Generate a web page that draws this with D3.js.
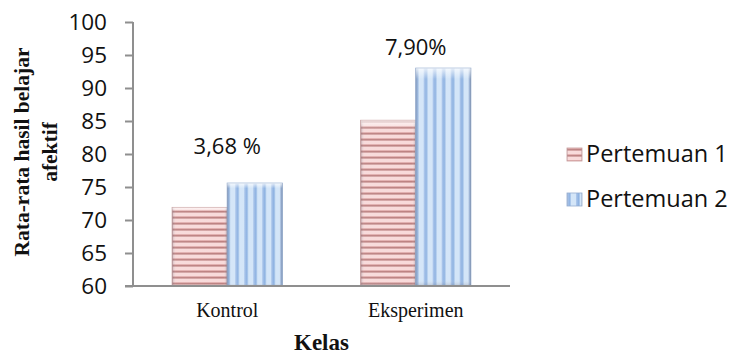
<!DOCTYPE html>
<html>
<head>
<meta charset="utf-8">
<script src="https://cdn.jsdelivr.net/npm/d3@7"></script>
<style>
  html, body { margin: 0; padding: 0; background: #fff; }
  svg { display: block; }
</style>
</head>
<body>
<svg id="chart" width="729" height="354"></svg>
<script>
// Mean affective learning scores per class, two meetings
const categories = ["Kontrol", "Eksperimen"];
const seriesNames = ["Pertemuan 1", "Pertemuan 2"];
const pertemuan1 = [71.9, 85.1];
const pertemuan2 = [75.58, 93.0];
const gainLabels = ["3,68 %", "7,90%"];
const yTicks = [60, 65, 70, 75, 80, 85, 90, 95, 100];

const svg = d3.select("#chart");
const sansFont = "'Open Sans', 'Liberation Sans', sans-serif";
const serifFont = "'Liberation Serif', 'DejaVu Serif', serif";

const plot = { left: 133, right: 510, top: 22, bottom: 286 };

const y = d3.scaleLinear().domain([60, 100]).range([plot.bottom, plot.top]);
const x0 = d3.scaleBand().domain(categories)
  .range([plot.left, plot.right]).paddingInner(0.416).paddingOuter(0.208);
const x1 = d3.scaleBand().domain(seriesNames).range([0, x0.bandwidth()]).padding(0);

// ---- fill patterns ----
const defs = svg.append("defs");

// rose fill with horizontal stripes
const pinkPat = defs.append("pattern").attr("id", "pinkStripes")
  .attr("patternUnits", "userSpaceOnUse").attr("width", 8).attr("height", 6);
pinkPat.append("rect").attr("width", 8).attr("height", 6).attr("fill", "#f8dada");
pinkPat.append("rect").attr("y", 0).attr("width", 8).attr("height", 1).attr("fill", "#e2b0b0");
pinkPat.append("rect").attr("y", 1).attr("width", 8).attr("height", 1.6).attr("fill", "#bd8282");

// sky-blue fill with vertical stripes
const bluePat = defs.append("pattern").attr("id", "blueStripes")
  .attr("patternUnits", "userSpaceOnUse").attr("width", 9).attr("height", 8);
bluePat.append("rect").attr("width", 9).attr("height", 8).attr("fill", "#d3e5f8");
bluePat.append("rect").attr("x", 0).attr("width", 1.2).attr("height", 8).attr("fill", "#a8c4ea");
bluePat.append("rect").attr("x", 1.2).attr("width", 2.4).attr("height", 8).attr("fill", "#8eb2e2");

// soft bevel shading on the bar edges
const bevelH = defs.append("linearGradient").attr("id", "bevelH")
  .attr("x1", "0").attr("x2", "1").attr("y1", "0").attr("y2", "0");
bevelH.append("stop").attr("offset", "0").attr("stop-color", "#556").attr("stop-opacity", 0.28);
bevelH.append("stop").attr("offset", "0.07").attr("stop-color", "#fff").attr("stop-opacity", 0.05);
bevelH.append("stop").attr("offset", "0.93").attr("stop-color", "#fff").attr("stop-opacity", 0.0);
bevelH.append("stop").attr("offset", "1").attr("stop-color", "#445").attr("stop-opacity", 0.32);

const bevelV = defs.append("linearGradient").attr("id", "bevelV")
  .attr("x1", "0").attr("x2", "0").attr("y1", "0").attr("y2", "1");
bevelV.append("stop").attr("offset", "0").attr("stop-color", "#fff").attr("stop-opacity", 0.75);
bevelV.append("stop").attr("offset", "0.05").attr("stop-color", "#fff").attr("stop-opacity", 0.0);
bevelV.append("stop").attr("offset", "0.97").attr("stop-color", "#fff").attr("stop-opacity", 0.0);
bevelV.append("stop").attr("offset", "1").attr("stop-color", "#556").attr("stop-opacity", 0.25);

const fills = { "Pertemuan 1": "url(#pinkStripes)", "Pertemuan 2": "url(#blueStripes)" };
const edges = { "Pertemuan 1": "#c79a9a", "Pertemuan 2": "#93acd0" };

// ---- bars ----
const rows = categories.map((c, i) => ({
  cat: c,
  values: [
    { series: seriesNames[0], value: pertemuan1[i] },
    { series: seriesNames[1], value: pertemuan2[i] }
  ]
}));

const groups = svg.append("g").selectAll("g").data(rows).join("g")
  .attr("transform", d => `translate(${x0(d.cat)},0)`);

const bars = groups.selectAll("g.bar").data(d => d.values).join("g").attr("class", "bar");
bars.append("rect")
  .attr("x", d => x1(d.series)).attr("y", d => y(d.value))
  .attr("width", x1.bandwidth()).attr("height", d => y(60) - y(d.value))
  .attr("fill", d => fills[d.series]).attr("stroke", d => edges[d.series]).attr("stroke-width", 1);
bars.append("rect")
  .attr("x", d => x1(d.series)).attr("y", d => y(d.value))
  .attr("width", x1.bandwidth()).attr("height", d => y(60) - y(d.value))
  .attr("fill", "url(#bevelH)");
bars.append("rect")
  .attr("x", d => x1(d.series)).attr("y", d => y(d.value))
  .attr("width", x1.bandwidth()).attr("height", d => y(60) - y(d.value))
  .attr("fill", "url(#bevelV)");

// gain labels sit on the next gridline step above the taller bar
groups.append("text")
  .attr("x", x0.bandwidth() / 2)
  .attr("y", (d, i) => y(Math.ceil(Math.max(pertemuan1[i], pertemuan2[i]) / 5) * 5))
  .attr("text-anchor", "middle")
  .attr("font-family", sansFont).attr("font-size", 22).attr("fill", "#111")
  .text((d, i) => gainLabels[i]);

// ---- axes ----
const axisColor = "#8f8f8f";
const yAxis = svg.append("g").attr("transform", `translate(${plot.left},0)`)
  .call(d3.axisLeft(y).tickValues(yTicks).tickSize(8).tickPadding(18).tickFormat(d3.format("d")));
yAxis.select(".domain").attr("stroke", axisColor).attr("stroke-width", 2)
  .attr("d", `M0,${plot.top}V${plot.bottom}`);
yAxis.selectAll(".tick line").attr("stroke", axisColor).attr("stroke-width", 2);
yAxis.selectAll(".tick text").attr("font-family", sansFont).attr("font-size", 22.5).attr("fill", "#111");

const xAxis = svg.append("g").attr("transform", `translate(0,${plot.bottom})`)
  .call(d3.axisBottom(x0).tickSize(0).tickPadding(20));
xAxis.select(".domain").attr("stroke", axisColor).attr("stroke-width", 2)
  .attr("d", `M${plot.left - 8},0H${plot.right}`);
xAxis.selectAll(".tick text").attr("font-family", serifFont).attr("font-size", 20).attr("fill", "#111")
  .attr("dy", null).attr("y", 31);

// axis titles
svg.append("text")
  .attr("x", (plot.left + plot.right) / 2).attr("y", 350)
  .attr("text-anchor", "middle").attr("font-family", serifFont)
  .attr("font-weight", "bold").attr("font-size", 23).attr("fill", "#111")
  .text("Kelas");

const yTitle = svg.append("text")
  .attr("transform", "rotate(-90)")
  .attr("text-anchor", "middle").attr("font-family", serifFont)
  .attr("font-weight", "bold").attr("font-size", 21.5).attr("fill", "#111");
yTitle.append("tspan").attr("x", -152).attr("y", 29).text("Rata-rata hasil belajar");
yTitle.append("tspan").attr("x", -152).attr("y", 57).text("afektif");

// ---- legend ----
const legend = svg.append("g").attr("transform", "translate(567,148)");
const items = legend.selectAll("g").data(seriesNames).join("g")
  .attr("transform", (d, i) => `translate(0,${i * 45})`);
items.append("rect").attr("width", 15).attr("height", 13)
  .attr("fill", d => fills[d]).attr("stroke", d => edges[d]).attr("stroke-width", 0.8);
items.append("rect").attr("width", 15).attr("height", 13).attr("fill", "url(#bevelH)");
items.append("text").attr("x", 19).attr("y", 14)
  .attr("font-family", sansFont).attr("font-size", 23.5).attr("fill", "#111")
  .text(d => d);
</script>
</body>
</html>
